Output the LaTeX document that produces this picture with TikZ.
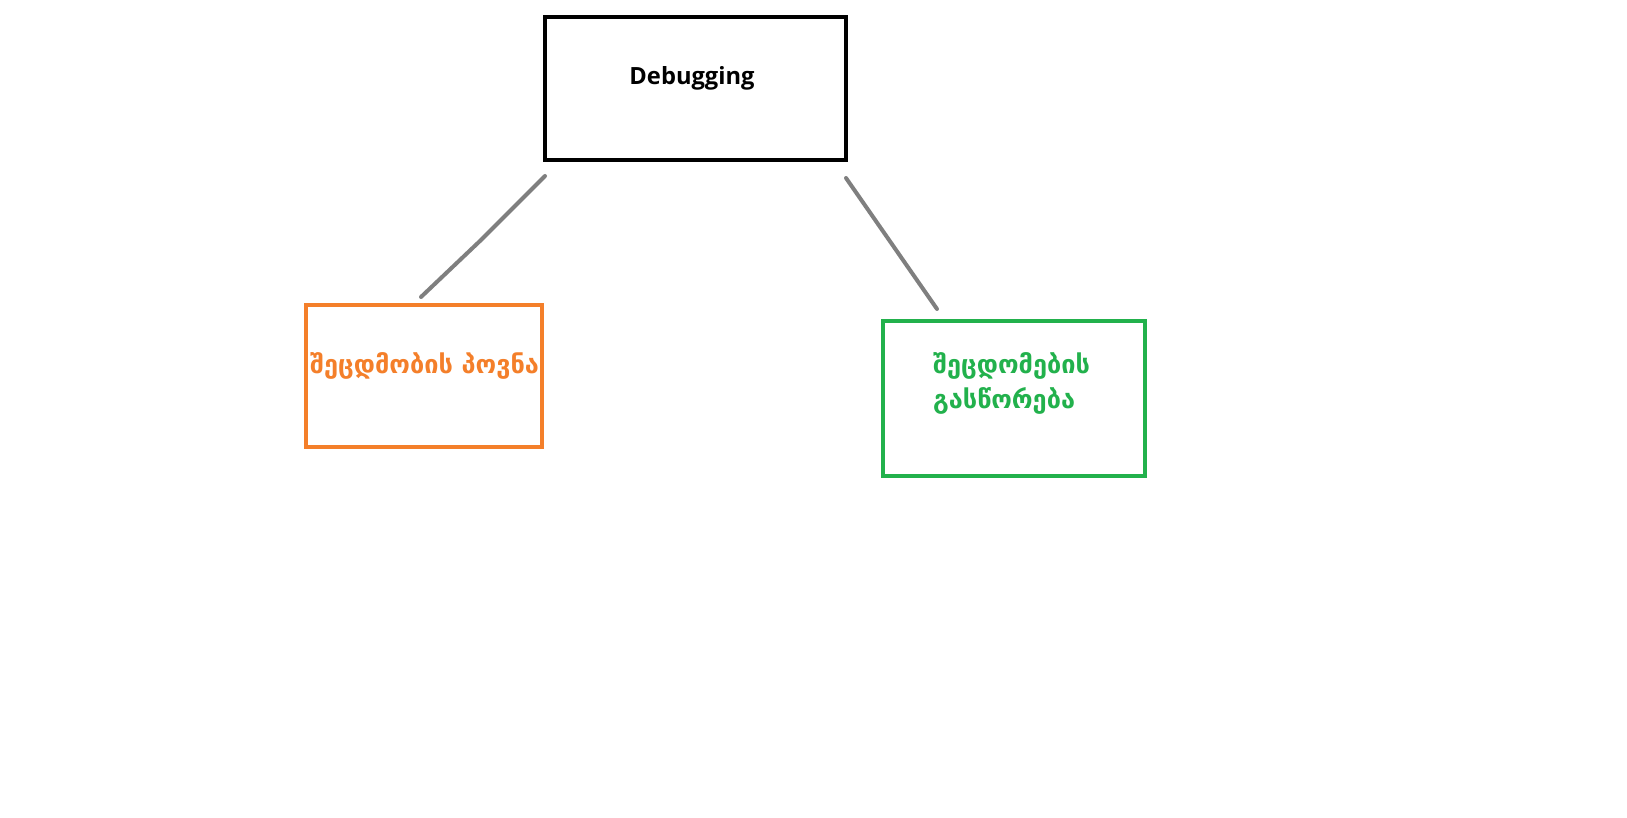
\documentclass[tikz,border=0pt]{standalone}
\usepackage{fontspec}
\setmainfont{Open Sans}
\newfontfamily\geofont{DejaVu Sans}
\definecolor{boxorange}{HTML}{F47F2A}
\definecolor{boxgreen}{HTML}{22B14C}
\definecolor{linegray}{HTML}{7F7F7F}
\tikzset{
  px/.style={x=1pt,y=-1pt},
  frame/.style={draw, line width=4pt},
  link/.style={draw=linegray, line width=4pt, line cap=round},
  geotext/.style={font=\geofont\bfseries\fontsize{25.3}{35}\selectfont, anchor=west, align=left, inner sep=0pt},
}
\begin{document}
\begin{tikzpicture}[px]
\useasboundingbox[fill=white] (0,0) rectangle (1627,818);
\draw[frame, black] (545,17) rectangle (846,160);
\node[font=\bfseries\fontsize{23.7}{28}\selectfont, inner sep=0pt] (dbg) at (692,78) {Debugging};
\draw[frame, boxorange, line width=3.5pt] (306,305) rectangle (542,447);
\node[geotext, text=boxorange] (find) at (310,366) {შეცდმობის პოვნა};
\draw[frame, boxgreen, line width=3.5pt] (883,321) rectangle (1145,476);
\node[geotext, text=boxgreen] (fix) at (933,383) {შეცდომების\\გასწორება};
\coordinate (a1) at (545,176);
\coordinate (a2) at (481,240);
\coordinate (a3) at (421,297);
\coordinate (b1) at (846,178);
\coordinate (b2) at (937,309);
\draw[link] (a1) -- (a2) -- (a3);
\draw[link] (b1) -- (b2);
\end{tikzpicture}
\end{document}
